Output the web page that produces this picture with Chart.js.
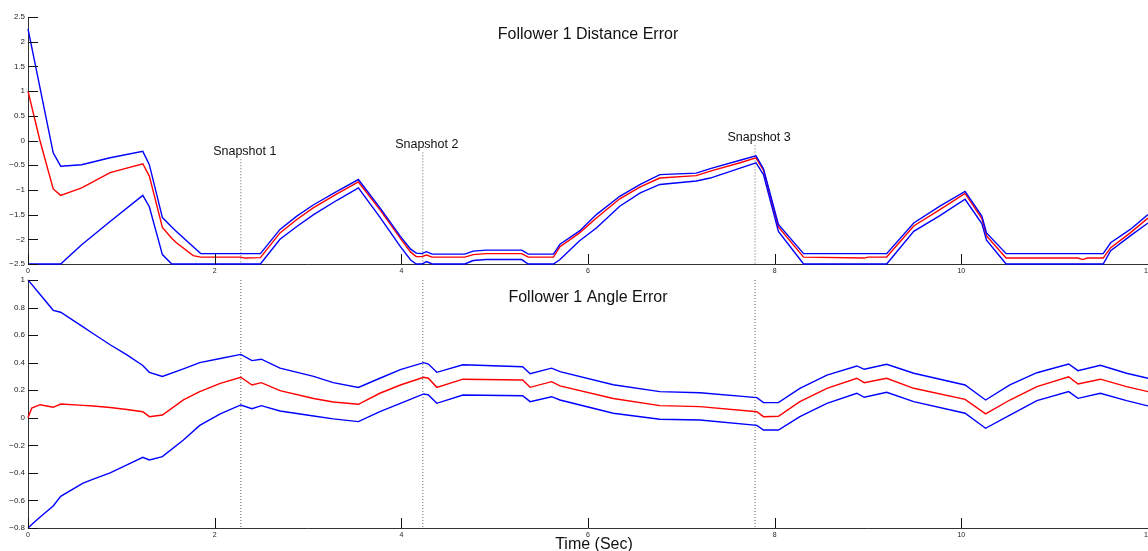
<!DOCTYPE html>
<html>
<head>
<meta charset="utf-8">
<script src="https://cdn.jsdelivr.net/npm/chart.js@4.4.1/dist/chart.umd.min.js"></script>
<style>
  html, body { margin: 0; padding: 0; background: #fff; }
  #wrap { position: relative; width: 1148px; height: 551px; overflow: hidden; }
  canvas { position: absolute; left: 0; }
  #top-chart { top: 0; }
  #bottom-chart { top: 272px; }
</style>
</head>
<body>
<div id="wrap">
  <canvas id="top-chart" width="1148" height="280"></canvas>
  <canvas id="bottom-chart" width="1148" height="279"></canvas>
</div>
<script>
// distance error (top plot)
const dist_time  = [0, 0.125, 0.27, 0.35, 0.575, 0.88, 1.23, 1.30, 1.44, 1.54, 1.59, 1.77, 1.85, 2.28, 2.32, 2.49,
                    2.70, 2.88, 3.06, 3.31, 3.54, 3.77, 3.99, 4.10, 4.16, 4.22, 4.27, 4.33, 4.68, 4.77, 4.91, 5.29,
                    5.36, 5.63, 5.70, 5.91, 6.09, 6.34, 6.56, 6.77, 7.16, 7.31, 7.63, 7.80, 7.88, 8.04, 8.31, 8.96,
                    9.00, 9.20, 9.49, 9.77, 10.04, 10.22, 10.27, 10.48, 11.25, 11.30, 11.35, 11.52, 11.60, 11.81, 12.0];
const dist_upper = [2.26, 1.10, -0.25, -0.52, -0.49, -0.35, -0.22, -0.49, -1.56, -1.75, -1.84, -2.15, -2.29, -2.29, -2.29, -2.29,
                    -1.80, -1.53, -1.30, -1.03, -0.79, -1.36, -1.94, -2.20, -2.28, -2.29, -2.25, -2.30, -2.30, -2.24, -2.22, -2.22,
                    -2.30, -2.30, -2.10, -1.83, -1.50, -1.13, -0.89, -0.69, -0.66, -0.57, -0.40, -0.31, -0.57, -1.70, -2.29, -2.29,
                    -2.29, -2.29, -1.67, -1.33, -1.03, -1.53, -1.87, -2.29, -2.29, -2.29, -2.29, -2.29, -2.07, -1.80, -1.50];
const dist_error = [1.0, 0.02, -0.98, -1.11, -0.96, -0.65, -0.47, -0.72, -1.76, -1.98, -2.07, -2.33, -2.36, -2.36, -2.38, -2.37,
                    -1.87, -1.60, -1.36, -1.08, -0.84, -1.40, -1.98, -2.26, -2.35, -2.35, -2.32, -2.36, -2.36, -2.31, -2.29, -2.29,
                    -2.36, -2.36, -2.15, -1.87, -1.57, -1.18, -0.94, -0.76, -0.71, -0.62, -0.45, -0.35, -0.60, -1.75, -2.36, -2.38,
                    -2.36, -2.36, -1.73, -1.40, -1.07, -1.58, -1.93, -2.38, -2.38, -2.41, -2.38, -2.38, -2.17, -1.87, -1.57];
const dist_lower = [-2.5, -2.5, -2.5, -2.5, -2.11, -1.64, -1.11, -1.34, -2.31, -2.5, -2.5, -2.5, -2.5, -2.5, -2.5, -2.5,
                    -2.00, -1.74, -1.50, -1.21, -0.96, -1.55, -2.15, -2.42, -2.5, -2.5, -2.45, -2.5, -2.5, -2.43, -2.41, -2.41,
                    -2.5, -2.5, -2.41, -2.03, -1.77, -1.33, -1.06, -0.89, -0.82, -0.76, -0.56, -0.45, -0.69, -1.84, -2.5, -2.5,
                    -2.5, -2.5, -1.84, -1.52, -1.19, -1.68, -2.02, -2.5, -2.5, -2.5, -2.5, -2.5, -2.23, -1.93, -1.67];

// angle error (bottom plot)
const angle_time  = [0, 0.04, 0.13, 0.27, 0.35, 0.59, 0.70, 0.88, 1.06, 1.23, 1.30, 1.44, 1.665, 1.84, 2.06, 2.28, 2.40, 2.50,
                     2.70, 3.06, 3.27, 3.54, 3.77, 3.99, 4.24, 4.29, 4.38, 4.66, 5.30, 5.38, 5.61, 5.70, 6.27, 6.77, 7.20,
                     7.81, 7.88, 8.04, 8.27, 8.56, 8.88, 8.96, 9.20, 9.49, 10.04, 10.26, 10.52, 10.81, 11.15, 11.25, 11.49,
                     11.77, 12.0];
const angle_upper = [1.0, 0.968, 0.895, 0.78, 0.766, 0.66, 0.61, 0.53, 0.456, 0.38, 0.33, 0.30, 0.355, 0.40, 0.43, 0.46, 0.415, 0.425,
                     0.36, 0.30, 0.255, 0.22, 0.287, 0.35, 0.40, 0.39, 0.33, 0.385, 0.37, 0.32, 0.36, 0.335, 0.24, 0.19, 0.182,
                     0.146, 0.11, 0.11, 0.214, 0.31, 0.376, 0.352, 0.388, 0.323, 0.238, 0.129, 0.238, 0.327, 0.39, 0.342, 0.381,
                     0.323, 0.287];
const angle_error = [0.0, 0.07, 0.095, 0.076, 0.10, 0.09, 0.085, 0.075, 0.06, 0.044, 0.008, 0.02, 0.13, 0.19, 0.25, 0.294, 0.238, 0.255,
                     0.197, 0.14, 0.115, 0.098, 0.178, 0.238, 0.294, 0.287, 0.221, 0.28, 0.274, 0.221, 0.262, 0.231, 0.14, 0.088, 0.081,
                     0.044, 0.008, 0.011, 0.117, 0.214, 0.287, 0.255, 0.287, 0.214, 0.134, 0.028, 0.129, 0.226, 0.298, 0.245, 0.28,
                     0.226, 0.19];
const angle_lower = [-0.80, -0.775, -0.72, -0.64, -0.57, -0.475, -0.445, -0.40, -0.342, -0.287, -0.306, -0.282, -0.161, -0.055, 0.028, 0.093, 0.066, 0.088,
                     0.049, 0.013, -0.008, -0.028, 0.044, 0.105, 0.173, 0.166, 0.105, 0.165, 0.16, 0.117, 0.153, 0.129, 0.033, -0.011, -0.016,
                     -0.055, -0.089, -0.089, 0.008, 0.105, 0.178, 0.149, 0.185, 0.117, 0.033, -0.076, 0.02, 0.124, 0.19, 0.141, 0.178,
                     0.124, 0.086];

const x_ticks = [0, 2, 4, 6, 8, 10, 12];
const dist_ticks = [-2.5, -2, -1.5, -1, -0.5, 0, 0.5, 1, 1.5, 2, 2.5];
const angle_ticks = [-0.8, -0.6, -0.4, -0.2, 0, 0.2, 0.4, 0.6, 0.8, 1];

const snapshot_names = ["Snapshot 1", "Snapshot 2", "Snapshot 3"];
const snapshot_times = [2.28, 4.23, 7.79];
const snapshot_tops = [-0.38, -0.24, -0.10]; // where the dotted line stops in the top plot

const FONT = '"Liberation Sans", Arial, sans-serif';

function points(times, values) {
    return times.map((t, i) => ({x: t, y: values[i]}));
}

function fmt(v) {
    return (v < 0 ? "\u2212" : "") + Math.abs(v);
}

function curve(data, color) {
    return {
        data: data,
        borderColor: color,
        borderWidth: 1.4,
        pointRadius: 0,
        tension: 0,
        fill: false,
        clip: 3
    };
}

function dotted(t, y1, y2) {
    return {
        data: [{x: t, y: y1}, {x: t, y: y2}],
        borderColor: "#666",
        borderWidth: 1,
        borderDash: [1, 2],
        pointRadius: 0,
        fill: false
    };
}

// inward tick marks, in-plot title, snapshot labels
const matlabAxes = {
    id: 'matlabAxes',
    afterDatasetsDraw(chart, args, opts) {
        const ctx = chart.ctx;
        const a = chart.chartArea;
        const xs = chart.scales.x;
        const ys = chart.scales.y;
        ctx.save();
        ctx.strokeStyle = "#111";
        ctx.lineWidth = 1;
        ctx.beginPath();
        xs.ticks.forEach(t => {
            const px = Math.round(xs.getPixelForValue(t.value)) + 0.5;
            ctx.moveTo(px, a.bottom);
            ctx.lineTo(px, a.bottom - 10);
        });
        ys.ticks.forEach(t => {
            const py = Math.round(ys.getPixelForValue(t.value)) + 0.5;
            ctx.moveTo(a.left, py);
            ctx.lineTo(a.left + 10, py);
        });
        ctx.stroke();

        ctx.fillStyle = "#111";
        ctx.textAlign = "center";
        ctx.textBaseline = "middle";
        ctx.font = "16px " + FONT;
        ctx.fillText(opts.title, (a.left + a.right) / 2, a.top + 18);

        if (opts.snapshots) {
            ctx.font = "12.5px " + FONT;
            snapshot_names.forEach((name, i) => {
                const px = xs.getPixelForValue(snapshot_times[i]);
                const py = ys.getPixelForValue(snapshot_tops[i]);
                ctx.fillText(name, px + 4, py - 8);
            });
        }
        if (opts.xlabel) {
            ctx.font = "16px " + FONT;
            ctx.fillText(opts.xlabel, (a.left + a.right) / 2 + 6, a.bottom + 17);
        }
        ctx.restore();
    }
};

function makeOptions(yMin, yMax, yTicks, padTop, xHeight, plug) {
    return {
        responsive: false,
        animation: false,
        layout: {padding: {top: padTop, left: 0, right: 0, bottom: 0}},
        plugins: {
            legend: {display: false},
            tooltip: {enabled: false},
            matlabAxes: plug
        },
        scales: {
            x: {
                type: 'linear',
                min: 0,
                max: 12,
                grid: {display: false, drawTicks: false},
                border: {display: true, color: "#333", width: 1},
                afterBuildTicks: s => { s.ticks = x_ticks.map(v => ({value: v})); },
                afterFit: s => { s.height = xHeight; s.paddingLeft = 0; s.paddingRight = 0; },
                ticks: {
                    color: "#222",
                    font: {family: FONT, size: 7},
                    padding: 3,
                    maxRotation: 0,
                    autoSkip: false,
                    callback: v => fmt(v)
                }
            },
            y: {
                type: 'linear',
                min: yMin,
                max: yMax,
                grid: {display: false, drawTicks: false},
                border: {display: true, color: "#333", width: 1},
                afterBuildTicks: s => { s.ticks = yTicks.map(v => ({value: v})); },
                afterFit: s => { s.width = 28; s.paddingTop = 0; s.paddingBottom = 0; },
                ticks: {
                    color: "#222",
                    font: {family: FONT, size: 8},
                    padding: 3,
                    autoSkip: false,
                    callback: v => fmt(v)
                }
            }
        }
    };
}

const topDatasets = [
    curve(points(dist_time, dist_upper), "#0000ff"),
    curve(points(dist_time, dist_lower), "#0000ff"),
    curve(points(dist_time, dist_error), "#ff0000")
];
snapshot_times.forEach((t, i) => topDatasets.push(dotted(t, snapshot_tops[i], -2.5)));

new Chart(document.getElementById("top-chart"), {
    type: 'line',
    data: {datasets: topDatasets},
    options: makeOptions(-2.5, 2.5, dist_ticks, 17, 16,
        {title: "Follower 1 Distance Error", snapshots: true}),
    plugins: [matlabAxes]
});

const bottomDatasets = [
    curve(points(angle_time, angle_upper), "#0000ff"),
    curve(points(angle_time, angle_lower), "#0000ff"),
    curve(points(angle_time, angle_error), "#ff0000")
];
snapshot_times.forEach(t => bottomDatasets.push(dotted(t, 1, -0.8)));

new Chart(document.getElementById("bottom-chart"), {
    type: 'line',
    data: {datasets: bottomDatasets},
    options: makeOptions(-0.8, 1, angle_ticks, 8, 23,
        {title: "Follower 1 Angle Error", snapshots: false, xlabel: "Time (Sec)"}),
    plugins: [matlabAxes]
});
</script>
</body>
</html>
